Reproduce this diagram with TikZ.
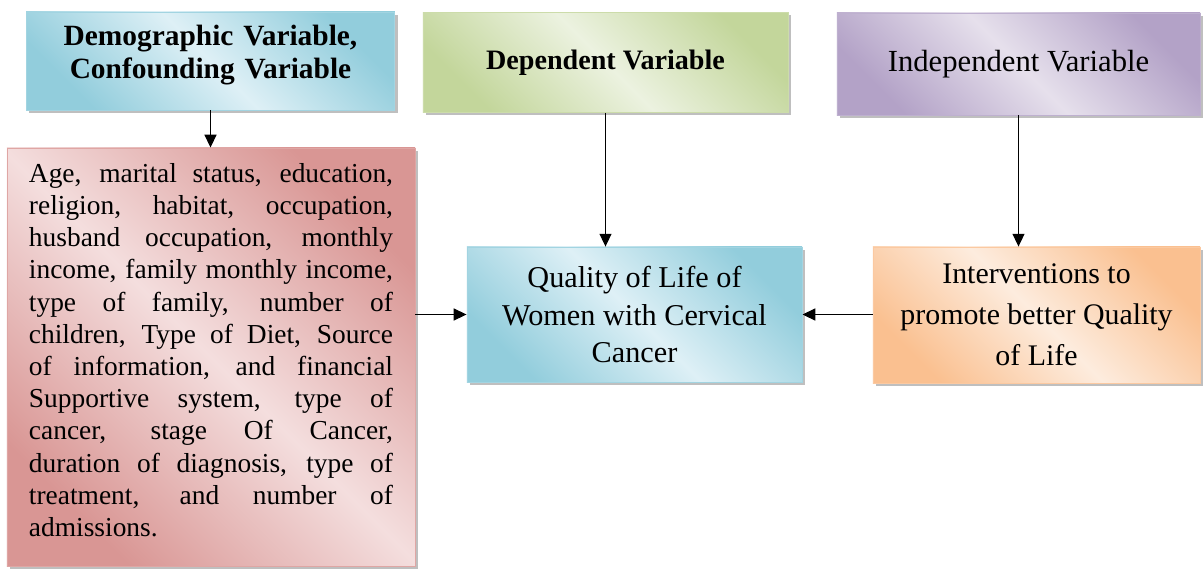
\documentclass[tikz,border=0pt]{standalone}
\usepackage{fontspec}
\setmainfont{Liberation Serif}
\usepackage{xcolor}
\usepackage{tikz}
\usetikzlibrary{arrows.meta,shapes,positioning,calc,shadows}
\definecolor{qblue}{RGB}{146,205,220}
\definecolor{qbluelt}{RGB}{222,240,246}
\definecolor{qgreen}{RGB}{195,214,155}
\definecolor{qgreenlt}{RGB}{236,242,224}
\definecolor{qpurple}{RGB}{179,162,199}
\definecolor{qpurplelt}{RGB}{230,224,236}
\definecolor{qred}{RGB}{217,150,148}
\definecolor{qredlt}{RGB}{244,222,222}
\definecolor{qorange}{RGB}{250,192,144}
\definecolor{qorangelt}{RGB}{253,236,222}

\begin{document}
\begin{tikzpicture}[
    x=0.025cm, y=-0.025cm,
    varbox/.style={rectangle, line width=0.6pt, align=center, inner sep=3pt,
        drop shadow={shadow xshift=0.07cm, shadow yshift=-0.07cm, fill=black!50, opacity=0.5}},
    bluebox/.style={varbox, draw=qblue!85, left color=qblue, right color=qblue, middle color=qbluelt, shading angle=135},
    greenbox/.style={varbox, draw=qgreen!85, left color=qgreen, right color=qgreen, middle color=qgreenlt, shading angle=135},
    purplebox/.style={varbox, draw=qpurple!85, left color=qpurple, right color=qpurple, middle color=qpurplelt, shading angle=135},
    redbox/.style={varbox, draw=qred!85, left color=qred, right color=qred, middle color=qredlt, shading angle=135},
    orangebox/.style={varbox, draw=qorange!85, left color=qorange, right color=qorange, middle color=qorangelt, shading angle=135},
    arrow/.style={-{Triangle[length=0.32cm, width=0.3cm]}, line width=0.8pt}
]
    \useasboundingbox (0,0) rectangle (1203,568);

    % Top row
    \node[bluebox, minimum width=9.125cm, minimum height=2.45cm, text width=9cm,
        font=\fontsize{20.9}{23.5}\selectfont\bfseries] (demog) at (210.5,61)
        {Demographic Variable,\\Confounding Variable\par\kern0.3cm};

    \node[greenbox, minimum width=9.125cm, minimum height=2.5cm,
        font=\fontsize{20}{23}\selectfont\bfseries] (dep) at (605.5,62.5)
        {Dependent Variable};

    \node[purplebox, minimum width=9.075cm, minimum height=2.55cm,
        font=\fontsize{21.8}{25}\selectfont] (indep) at (1018.5,64)
        {Independent Variable};

    % Confounding factors
    \node[redbox, minimum width=10.2cm, minimum height=10.45cm, text width=9.1cm,
        align=justify, font=\fontsize{19.5}{22.9}\selectfont] (factors) at (211,357)
        {\hyphenpenalty=10000
        Age, marital status, education,\linebreak
        religion, habitat, occupation,\linebreak
        husband occupation, monthly\linebreak
        income, family monthly income,\linebreak
        type of family, number of\linebreak
        children, Type of Diet, Source\linebreak
        of information, and financial\linebreak
        Supportive system, type of\linebreak
        cancer, stage Of Cancer,\linebreak
        duration of diagnosis, type of\linebreak
        treatment, and number of\linebreak
        admissions.\par\kern0.35cm};

    % Outcome and interventions
    \node[bluebox, minimum width=8.375cm, minimum height=3.375cm,
        font=\fontsize{21.5}{27}\selectfont] (qol) at (634.5,314.5)
        {Quality of Life of\\Women with Cervical\\Cancer};

    \node[orangebox, minimum width=8.175cm, minimum height=3.4cm,
        font=\fontsize{21.25}{29}\selectfont] (interv) at (1036.5,315)
        {Interventions to\\promote better Quality\\of Life};

    % Arrows
    \draw[arrow] (demog.south) -- (demog.south |- factors.north);
    \draw[arrow] (dep.south) -- (dep.south |- qol.north);
    \draw[arrow] (indep.south) -- (indep.south |- interv.north);
    \draw[arrow] (factors.east |- qol.west) -- (qol.west);
    \draw[arrow] (interv.west |- qol.east) -- (qol.east);
\end{tikzpicture}
\end{document}
